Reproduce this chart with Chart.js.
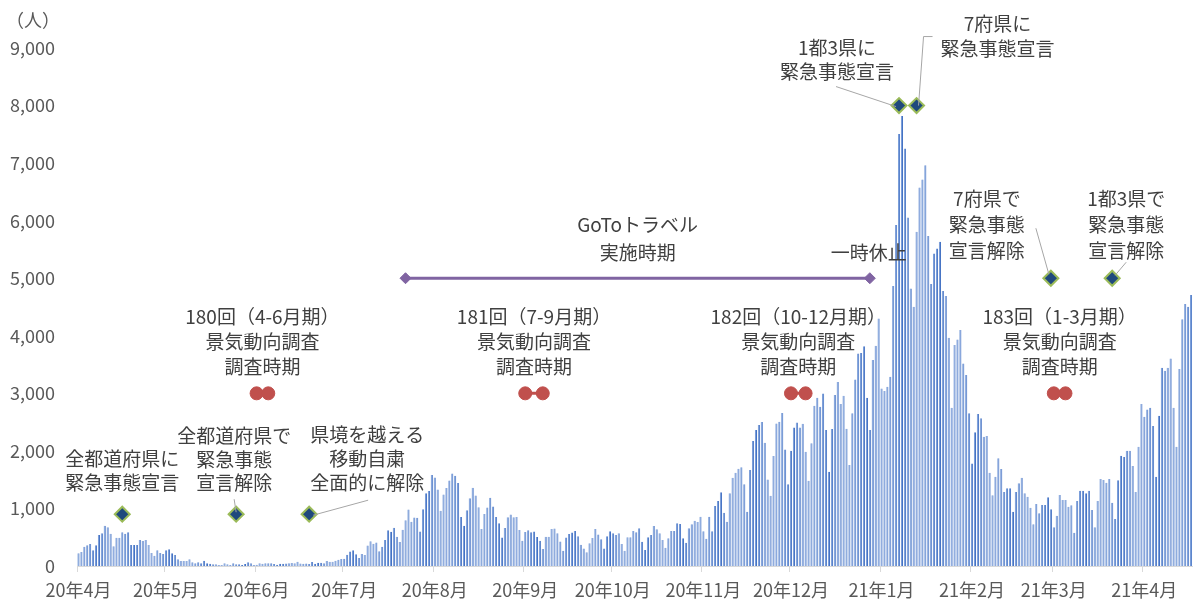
<!DOCTYPE html>
<html>
<head>
<meta charset="utf-8">
<script src="https://cdn.jsdelivr.net/npm/chart.js@4.4.1/dist/chart.umd.min.js"></script>
<style>
  body { margin: 0; background: #fff; }
  canvas { display: block; }
</style>
</head>
<body>
<canvas id="casesChart" width="1202" height="600"></canvas>
<script>
// 日別の新規陽性者数（人）
const apr20 = [220, 243, 336, 359, 382, 272, 359, 538, 567, 700, 672, 562, 342, 492, 492, 585, 562, 585, 365, 365, 365, 452, 434, 452, 365, 226, 180, 272, 226, 208];
const may20 = [272, 290, 220, 191, 116, 87, 87, 87, 116, 64, 46, 64, 46, 93, 46, 41, 29, 29, 17, 17, 46, 29, 17, 46, 29, 29, 17, 35, 64, 46, 17];
const jun20 = [23, 46, 40, 46, 46, 46, 35, 23, 38, 41, 42, 46, 51, 47, 72, 44, 41, 42, 35, 68, 39, 55, 58, 48, 87, 75, 75, 92, 110, 120];
const jul20 = [127, 194, 250, 274, 206, 138, 208, 192, 355, 429, 385, 408, 258, 334, 452, 622, 594, 664, 510, 419, 631, 795, 981, 768, 841, 840, 598, 984, 1264, 1301, 1579];
const aug20 = [1536, 1331, 958, 1242, 1356, 1485, 1605, 1568, 1442, 850, 700, 969, 1176, 1360, 1227, 1019, 644, 904, 1017, 1185, 1034, 850, 743, 496, 662, 849, 896, 848, 851, 626, 438];
const sep20 = [589, 621, 587, 600, 505, 439, 294, 507, 508, 643, 651, 570, 424, 265, 496, 558, 581, 610, 518, 371, 302, 237, 396, 487, 645, 548, 466, 305, 518, 605];
const oct20 = [567, 538, 567, 382, 266, 498, 498, 608, 585, 654, 423, 278, 498, 538, 695, 637, 567, 452, 318, 481, 608, 608, 741, 729, 481, 405, 654, 724, 787, 764, 857];
const nov20 = [602, 475, 857, 602, 1042, 1129, 1280, 926, 770, 1262, 1534, 1621, 1691, 1714, 1419, 944, 1668, 2171, 2362, 2449, 2501, 2142, 1505, 1222, 1911, 2478, 2507, 2658, 2026, 1419];
const dec20 = [2003, 2408, 2495, 2408, 2472, 1986, 1482, 2131, 2785, 2924, 2768, 2999, 2362, 1639, 2380, 2970, 3196, 2814, 2959, 2385, 1754, 2652, 3242, 3694, 3700, 3820, 2924, 2362, 3578, 3827, 4302];
const jan21 = [3086, 3040, 3115, 3289, 4864, 5923, 7504, 7817, 7255, 6056, 4823, 4505, 5807, 6577, 6716, 6965, 5732, 4898, 5431, 5518, 5634, 4777, 4690, 3966, 2750, 3839, 3937, 4099, 3520, 3318, 2652];
const feb21 = [1783, 2322, 2640, 2565, 2246, 2258, 1621, 1230, 1552, 1870, 1685, 1285, 1349, 1349, 944, 1285, 1436, 1534, 1262, 1204, 1013, 724, 1077, 915, 1060, 1060, 1193, 984];
const mar21 = [672, 874, 1233, 1146, 1146, 1031, 1054, 579, 1129, 1309, 1309, 1262, 1309, 973, 672, 1129, 1511, 1494, 1448, 1511, 1100, 816, 1488, 1916, 1893, 2003, 2003, 1737, 1285, 2073, 2814];
const apr21 = [2594, 2721, 2750, 2432, 1552, 2611, 3445, 3393, 3445, 3607, 2750, 2073, 3422, 4285, 4551, 4505, 4707];

const monthKeys = ['2020/4', '2020/5', '2020/6', '2020/7', '2020/8', '2020/9', '2020/10', '2020/11', '2020/12', '2021/1', '2021/2', '2021/3', '2021/4'];
const monthLabels = ['20年4月', '20年5月', '20年6月', '20年7月', '20年8月', '20年9月', '20年10月', '20年11月', '20年12月', '21年1月', '21年2月', '21年3月', '21年4月'];
const dailyByMonth = [apr20, may20, jun20, jul20, aug20, sep20, oct20, nov20, dec20, jan21, feb21, mar21, apr21];

// 出来事（◆）
const eventDates = ['2020/4/16', '2020/5/25', '2020/6/19', '2021/1/7', '2021/1/13', '2021/2/28', '2021/3/21'];
const eventLevels = [900, 900, 900, 8000, 8000, 5000, 5000];
const eventTexts = [
    ['全都道府県に', '緊急事態宣言'],
    ['全都道府県で', '緊急事態', '宣言解除'],
    ['県境を越える', '移動自粛', '全面的に解除'],
    ['1都3県に', '緊急事態宣言'],
    ['7府県に', '緊急事態宣言'],
    ['7府県で', '緊急事態', '宣言解除'],
    ['1都3県で', '緊急事態', '宣言解除']
];

// GoToトラベル
const gotoDates = ['2020/7/22', '2020/12/28'];
const gotoLevel = 5000;

// 景気動向調査の調査時期
const surveyStart = ['2020/6/1', '2020/9/1', '2020/12/1', '2021/3/1'];
const surveyEnd = ['2020/6/5', '2020/9/7', '2020/12/6', '2021/3/5'];
const surveyNames = ['180回（4-6月期）', '181回（7-9月期）', '182回（10-12月期）', '183回（1-3月期）'];
const surveyLevel = 3000;

const dates = [];
const tickText = [];
const cases = [];
dailyByMonth.forEach((arr, m) => {
    arr.forEach((v, d) => {
        dates.push(monthKeys[m] + '/' + (d + 1));
        tickText.push(d === 0 ? monthLabels[m] : '');
        cases.push(v);
    });
});

const jpFont = '"Noto Sans CJK JP", "Noto Sans", sans-serif';
Chart.defaults.font.family = jpFont;

// 文字の置き場所（点からのずれ）
const eventNoteStyle = [
    { dx: 0, dy: -55, lh: 23.5, leader: null },
    { dx: -2, dy: -78, lh: 23.5, leader: [[-2, -15], [0, -2]] },
    { dx: 58, dy: -79, lh: 24, leader: [[59, -14], [4, 1]] },
    { dx: -62, dy: -58, lh: 24, leader: [[-63, -19], [-3, 1]] },
    { dx: 81, dy: -82, lh: 25, leader: [[16, -69], [7, -69], [2, 0]] },
    { dx: -64, dy: -79, lh: 26, leader: [[-15, -50], [-2, -4]] },
    { dx: 14, dy: -79, lh: 26, leader: [[14, -16], [3, -3]] }
];

const notes = {
    id: 'notes',
    afterDatasetsDraw(chart) {
        const { ctx, scales: { x, y } } = chart;
        const px = d => x.getPixelForValue(dates.indexOf(d));
        ctx.save();
        ctx.font = '19px ' + jpFont;
        ctx.textAlign = 'center';
        ctx.textBaseline = 'middle';
        ctx.fillStyle = '#404040';

        const drawLines = (cx, cy, lines, lh) => {
            lines.forEach((t, k) => ctx.fillText(t, cx, cy + k * lh));
        };

        eventDates.forEach((d, i) => {
            const ax = px(d);
            const ay = y.getPixelForValue(eventLevels[i]);
            const st = eventNoteStyle[i];
            drawLines(ax + st.dx, ay + st.dy, eventTexts[i], st.lh);
            if (st.leader) {
                ctx.beginPath();
                ctx.strokeStyle = '#A6A6A6';
                ctx.lineWidth = 1;
                st.leader.forEach((p, k) => {
                    if (k === 0) ctx.moveTo(ax + p[0], ay + p[1]);
                    else ctx.lineTo(ax + p[0], ay + p[1]);
                });
                ctx.stroke();
            }
        });

        // GoToトラベル
        const gy = y.getPixelForValue(gotoLevel);
        const gx = (px(gotoDates[0]) + px(gotoDates[1])) / 2;
        drawLines(gx, gy - 53, ['GoToトラベル', '実施時期'], 28);
        drawLines(px(gotoDates[1]) - 1, gy - 25, ['一時休止'], 0);

        // 調査時期
        const sy = y.getPixelForValue(surveyLevel);
        surveyStart.forEach((s, i) => {
            const cx = (px(s) + px(surveyEnd[i])) / 2;
            drawLines(cx, sy - 77, [surveyNames[i], '景気動向調査', '調査時期'], 25);
        });

        // 単位
        ctx.font = '18px ' + jpFont;
        ctx.textAlign = 'left';
        ctx.fillStyle = '#595959';
        ctx.fillText('（人）', 6, 20);
        ctx.restore();
    }
};

const chartCtx = document.getElementById('casesChart').getContext('2d');
new Chart(chartCtx, {
    type: 'bar',
    data: {
        labels: dates,
        datasets: [
            {
                type: 'line',
                data: eventDates.map((d, i) => ({ x: d, y: eventLevels[i] })),
                showLine: false,
                pointStyle: 'rectRot',
                pointRadius: 7.5,
                pointBackgroundColor: '#1F497D',
                pointBorderColor: '#9BBB59',
                pointBorderWidth: 2,
                order: 0
            },
            {
                type: 'line',
                data: gotoDates.map(d => ({ x: d, y: gotoLevel })),
                borderColor: '#8064A2',
                borderWidth: 3,
                pointStyle: 'rectRot',
                pointRadius: 5.5,
                pointBackgroundColor: '#8064A2',
                pointBorderColor: '#8064A2',
                pointBorderWidth: 1,
                order: 1
            },
            ...surveyStart.map((s, i) => ({
                type: 'line',
                data: [{ x: s, y: surveyLevel }, { x: surveyEnd[i], y: surveyLevel }],
                borderColor: '#C0504D',
                borderWidth: 3,
                pointRadius: 6.5,
                pointBackgroundColor: '#C0504D',
                pointBorderColor: '#C0504D',
                pointBorderWidth: 1,
                order: 1
            })),
            {
                type: 'bar',
                data: cases,
                backgroundColor: '#7B9ED9',
                borderColor: '#4472C4',
                borderWidth: { top: 0, right: 1, bottom: 0, left: 0 },
                borderSkipped: false,
                barPercentage: 0.74,
                categoryPercentage: 1,
                order: 5
            }
        ]
    },
    options: {
        responsive: false,
        animation: false,
        layout: { padding: { top: 48, right: 1, left: 0, bottom: 0 } },
        plugins: {
            legend: { display: false },
            tooltip: { enabled: false }
        },
        scales: {
            x: {
                offset: true,
                grid: {
                    display: true,
                    offset: true,
                    drawOnChartArea: false,
                    drawTicks: true,
                    tickLength: 6,
                    color: c => (tickText[c.index] ? '#D9D9D9' : 'rgba(0,0,0,0)')
                },
                border: { display: true, color: '#D9D9D9', width: 1 },
                ticks: {
                    autoSkip: false,
                    maxRotation: 0,
                    minRotation: 0,
                    // padding 0 keeps the right edge flush; lineHeight pushes labels down instead
                    padding: 0,
                    color: '#595959',
                    font: { size: 18, lineHeight: 2 },
                    callback: (v, i) => tickText[i]
                },
                afterFit: s => { s.height = 34; }
            },
            y: {
                min: 0,
                max: 9000,
                grid: { display: false, drawTicks: false },
                border: { display: false },
                ticks: {
                    stepSize: 1000,
                    padding: 22,
                    color: '#595959',
                    font: { size: 18 },
                    callback: v => v.toLocaleString('en-US')
                },
                afterFit: s => { s.width = 77; }
            }
        }
    },
    plugins: [notes]
});
</script>
</body>
</html>
